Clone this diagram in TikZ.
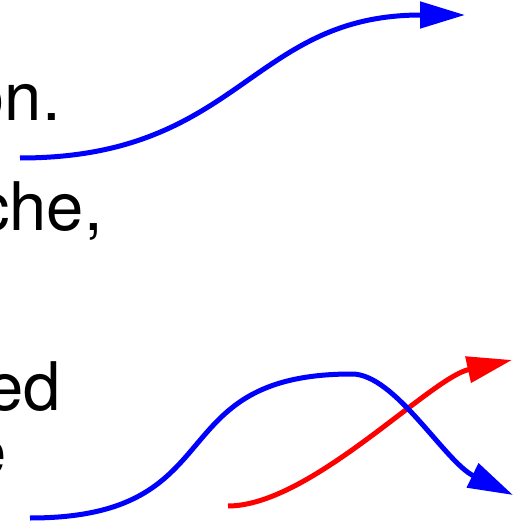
\documentclass[tikz,border=0pt]{standalone}
\usepackage{fontspec}
\setmainfont{TeX Gyre Heros}
\usetikzlibrary{arrows.meta}
\tikzset{
  flow/.style={line width=5pt, -{Triangle[length=45pt,width=26pt]}},
  word/.style={inner sep=0pt, anchor=base east, font=\fontsize{67}{80}\selectfont},
}
\begin{document}
\begin{tikzpicture}[x=1pt,y=-1pt]
\useasboundingbox (0,0) rectangle (523,522);
\clip (0,0) rectangle (523,522);
% Text cut off at the left edge
\node[word] (on) at (61,120) {on.};
\node[word] (che) at (103,230) {che,};
\node[word] (ed) at (61,410) {ed};
\node[word] (e) at (7,475) {e};

% Upper curve
\coordinate (upstart) at (20,158);
\coordinate (uptip) at (465,15);
\draw[flow, blue] (upstart) .. controls (240,158) and (250,15) .. (uptip);

% Red curve
\coordinate (redstart) at (228,506);
\coordinate (redtip) at (512,360);
\draw[flow, red] (redstart) .. controls (310,506) and (430,378) .. (redtip);

% Lower blue curve, over the top and down
\coordinate (lowstart) at (30,518);
\coordinate (lowtop) at (352,374);
\coordinate (lowtip) at (513,495);
\draw[flow, blue] (lowstart) .. controls (236,518) and (157,374) .. (lowtop)
  .. controls (395,374) and (445,462) .. (lowtip);

\end{tikzpicture}
\end{document}
